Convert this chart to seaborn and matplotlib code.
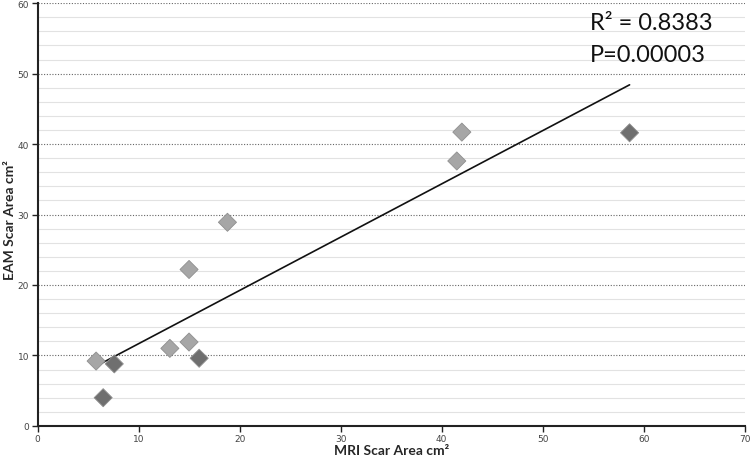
import numpy as np
import pandas as pd
import matplotlib.pyplot as plt
import seaborn as sns
from matplotlib.ticker import MultipleLocator

# MRI vs EAM scar area (cm2)
mri_area = [5.8, 7.6, 6.5, 13.1, 15.0, 16.0, 15.0, 18.8, 41.5, 42.0, 58.6]
eam_area = [9.2, 8.8, 4.0, 11.0, 11.9, 9.6, 22.2, 28.9, 37.6, 41.7, 41.6]
shade = ["light", "dark", "dark", "light", "light", "dark",
         "light", "light", "light", "light", "dark"]

r2_text = "R² = 0.8383"
p_text = "P=0.00003"

df = pd.DataFrame({"mri": mri_area, "eam": eam_area, "shade": shade})

sns.set_style("white")
fig = plt.figure(figsize=(7.5, 4.64), dpi=100)
ax = fig.add_axes([0.05, 0.08, 0.943, 0.911])

sns.scatterplot(data=df, x="mri", y="eam", hue="shade",
                palette={"light": "#a6a6a6", "dark": "#6f6f6f"},
                marker="D", s=85, edgecolor="#8f8f8f", linewidth=0.6,
                legend=False, ax=ax, zorder=3)
sns.regplot(data=df, x="mri", y="eam", ci=None, scatter=False, truncate=True,
            line_kws={"color": "#111111", "lw": 1.2}, ax=ax)

ax.set_xlim(0, 70)
ax.set_ylim(0, 60)
ax.xaxis.set_major_locator(MultipleLocator(10))
ax.yaxis.set_major_locator(MultipleLocator(10))
ax.yaxis.set_minor_locator(MultipleLocator(2))

ax.grid(False)
ax.grid(axis="y", which="major", linestyle=(0, (1, 1.5)), color="#666666", lw=0.8)
ax.grid(axis="y", which="minor", linestyle="-", color="#e2e2e2", lw=0.8)
ax.set_axisbelow(True)

for side in ["top", "right"]:
    ax.spines[side].set_visible(False)
for side in ["left", "bottom"]:
    ax.spines[side].set_color("#222222")
    ax.spines[side].set_linewidth(1.5)

ax.tick_params(axis="both", which="major", labelsize=6.5, labelcolor="#444444",
               direction="out", length=4, width=1, color="#222222",
               left=True, bottom=True, pad=2)
ax.tick_params(axis="y", which="minor", length=0)

ax.set_xlabel("MRI Scar Area cm²", fontsize=10, fontweight="bold", family="Lato")
ax.set_ylabel("EAM Scar Area cm²", fontsize=10, fontweight="bold", family="Lato")
ax.xaxis.set_label_coords(0.5, -0.042)
ax.yaxis.set_label_coords(-0.031, 0.49)

ax.text(54.7, 57.2, r2_text, fontsize=17, family="Lato", color="#111111", va="center")
ax.text(54.7, 52.7, p_text, fontsize=17, family="Lato", color="#111111", va="center")

plt.savefig("out.png", dpi=100)
plt.close()
